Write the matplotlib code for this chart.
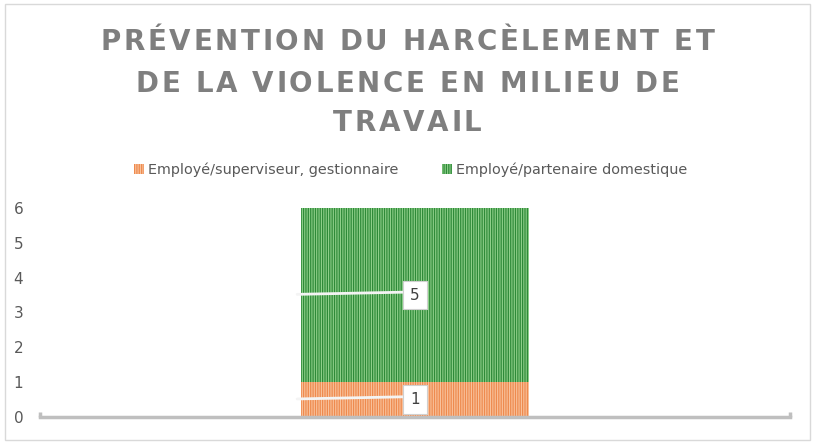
import matplotlib
matplotlib.use("Agg")
import matplotlib.pyplot as plt
from matplotlib.patches import Rectangle
from matplotlib.font_manager import FontProperties, findfont, get_font

# Data
categories = [""]
series_names = ["Employé/superviseur, gestionnaire", "Employé/partenaire domestique"]
superviseur = [1]
partenaire = [5]
y_ticks = [0, 1, 2, 3, 4, 5, 6]

title_lines = ["PRÉVENTION DU HARCÈLEMENT ET", "DE LA VIOLENCE EN MILIEU DE", "TRAVAIL"]

orange_face, orange_hatch = "#F9C29C", "#EE8A4E"
green_face, green_hatch = "#8FD08A", "#2E8A38"
text_grey = "#595959"
axis_grey = "#BFBFBF"

W, H, DPI = 815, 448, 100

plt.rcParams["hatch.linewidth"] = 0.9


def spaced_title(fig, lines, baselines, size, spacing, color):
    """Draw centred lines of text with extra letter spacing (pixels)."""
    prop = FontProperties(family="DejaVu Sans", weight="bold", size=size)
    font = get_font(findfont(prop))
    font.set_size(size, DPI)
    for line, yb in zip(lines, baselines):
        adv = [font.load_char(ord(c)).linearHoriAdvance / 65536 for c in line]
        total = sum(adv) + spacing * (len(line) - 1)
        x0 = W / 2 - total / 2
        for c, a in zip(line, adv):
            fig.text(x0 / W, 1 - yb / H, c, fontproperties=prop, color=color,
                     ha="left", va="baseline")
            x0 += a + spacing


fig = plt.figure(figsize=(W / DPI, H / DPI), dpi=DPI)

# outer chart border
fig.patches.append(Rectangle((0.006, 0.018), 0.988, 0.972, transform=fig.transFigure,
                             fill=False, edgecolor="#D9D9D9", linewidth=1))

ax = fig.add_axes([0.049, 0.069, 0.920, 0.467])

bar_w = 0.304
x = list(range(len(categories)))
b1 = ax.bar(x, superviseur, width=bar_w, color=orange_face, edgecolor=orange_hatch,
            hatch="|||||||", linewidth=0, label=series_names[0])
b2 = ax.bar(x, partenaire, width=bar_w, bottom=superviseur, color=green_face,
            edgecolor=green_hatch, hatch="|||||||", linewidth=0, label=series_names[1])

# data labels with leader lines
for i in x:
    for base, val in [(0, superviseur[i]), (superviseur[i], partenaire[i])]:
        yc = base + val / 2
        ax.annotate(str(val), xy=(i - bar_w / 2 - 0.005, yc + 0.02), xytext=(i, yc),
                    ha="center", va="center", fontsize=11, color="#404040",
                    bbox=dict(boxstyle="square,pad=0.45", facecolor="white",
                              edgecolor="#D0D0D0", linewidth=0.8),
                    arrowprops=dict(arrowstyle="-", color="#F4F4F4", linewidth=2,
                                    relpos=(0, 0.7), shrinkA=0, shrinkB=0))

ax.set_xlim(-0.5, 0.5)
ax.set_ylim(0, 6)
ax.set_yticks(y_ticks)
ax.set_xticks([])
ax.tick_params(axis="y", length=0, pad=12, labelsize=11, labelcolor=text_grey)
for s in ["top", "right", "left"]:
    ax.spines[s].set_visible(False)
ax.spines["bottom"].set_color(axis_grey)
ax.spines["bottom"].set_linewidth(2.5)
for xe in (0, 1):
    ax.plot([xe, xe], [0, 0.025], transform=ax.transAxes, color=axis_grey,
            linewidth=2.5, clip_on=False, solid_capstyle="butt")

spaced_title(fig, title_lines, [50, 92, 131], 20, 2.6, "#7F7F7F")

fig.legend(handles=[b1, b2], labels=series_names, loc="center",
           bbox_to_anchor=(0.504, 0.62), ncol=2, frameon=False, fontsize=10.4,
           labelcolor=text_grey, handlelength=0.7, handleheight=0.7,
           handletextpad=0.3, columnspacing=3.0)

fig.savefig("out.png", dpi=DPI, facecolor="white")
